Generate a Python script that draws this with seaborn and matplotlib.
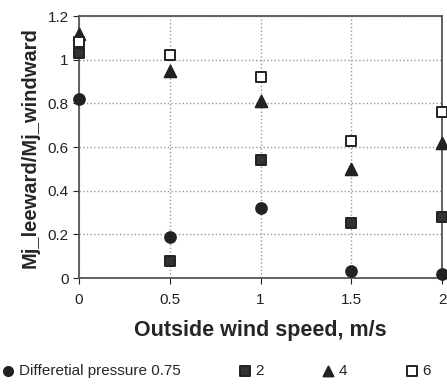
import seaborn as sns
import matplotlib.pyplot as plt
import pandas as pd

# data
wind_speed = [0, 0.5, 1, 1.5, 2]
dp_075 = [0.82, 0.19, 0.32, 0.03, 0.02]
dp_2 = [1.03, 0.08, 0.54, 0.25, 0.28]
dp_4 = [1.12, 0.95, 0.81, 0.50, 0.62]
dp_6 = [1.08, 1.02, 0.92, 0.63, 0.76]
labels = ["Differetial pressure 0.75", "2", "4", "6"]

sns.set_style("white")
plt.rcParams['font.family'] = ['Liberation Sans', 'DejaVu Sans']

df = pd.DataFrame({"speed": wind_speed * 4,
                   "value": dp_075 + dp_2 + dp_4 + dp_6,
                   "series": [l for l in labels for _ in wind_speed]})

fig = plt.figure(figsize=(4.47, 3.84), dpi=100)
ax = fig.add_axes([0.177, 0.276, 0.812, 0.682])

# marker, face colour, size for each series
styles = {"Differetial pressure 0.75": ("o", "#222222", 60),
          "2": ("s", "#333333", 60),
          "4": ("^", "#222222", 70),
          "6": ("s", "white", 60)}
for name in labels:
    m, fc, s = styles[name]
    sns.scatterplot(data=df[df.series == name], x="speed", y="value", ax=ax,
                    marker=m, color=fc, edgecolor="#222222", linewidth=1.4,
                    s=s, label=name, clip_on=False, zorder=3)

ax.set_xlim(0, 2)
ax.set_ylim(0, 1.2)
ax.set_xticks([0, 0.5, 1, 1.5, 2])
ax.set_xticklabels(["0", "0.5", "1", "1.5", "2"])
ax.set_yticks([0, 0.2, 0.4, 0.6, 0.8, 1.0, 1.2])
ax.set_yticklabels(["0", "0.2", "0.4", "0.6", "0.8", "1", "1.2"])
ax.tick_params(labelsize=11, colors="#222222", length=4, left=True, bottom=True)
ax.tick_params(axis="x", pad=7)
ax.grid(True, linestyle=":", color="#999999", linewidth=1)
for sp in ax.spines.values():
    sp.set_color("#555555")
    sp.set_linewidth(1.3)

ax.set_xlabel("Outside wind speed, m/s", fontsize=15.5, fontweight="bold", labelpad=9)
ax.set_ylabel("Mj_leeward/Mj_windward", fontsize=14.5, fontweight="bold", labelpad=6)

h, l = ax.get_legend_handles_labels()
ax.get_legend().remove()
fig.legend(h, l, loc="lower left", bbox_to_anchor=(0.005, 0.016), ncol=4,
           frameon=False, fontsize=11, handlelength=0.8, handletextpad=0.3,
           columnspacing=3.8, markerscale=0.85, borderaxespad=0, borderpad=0)

plt.savefig("out.png", dpi=100)
